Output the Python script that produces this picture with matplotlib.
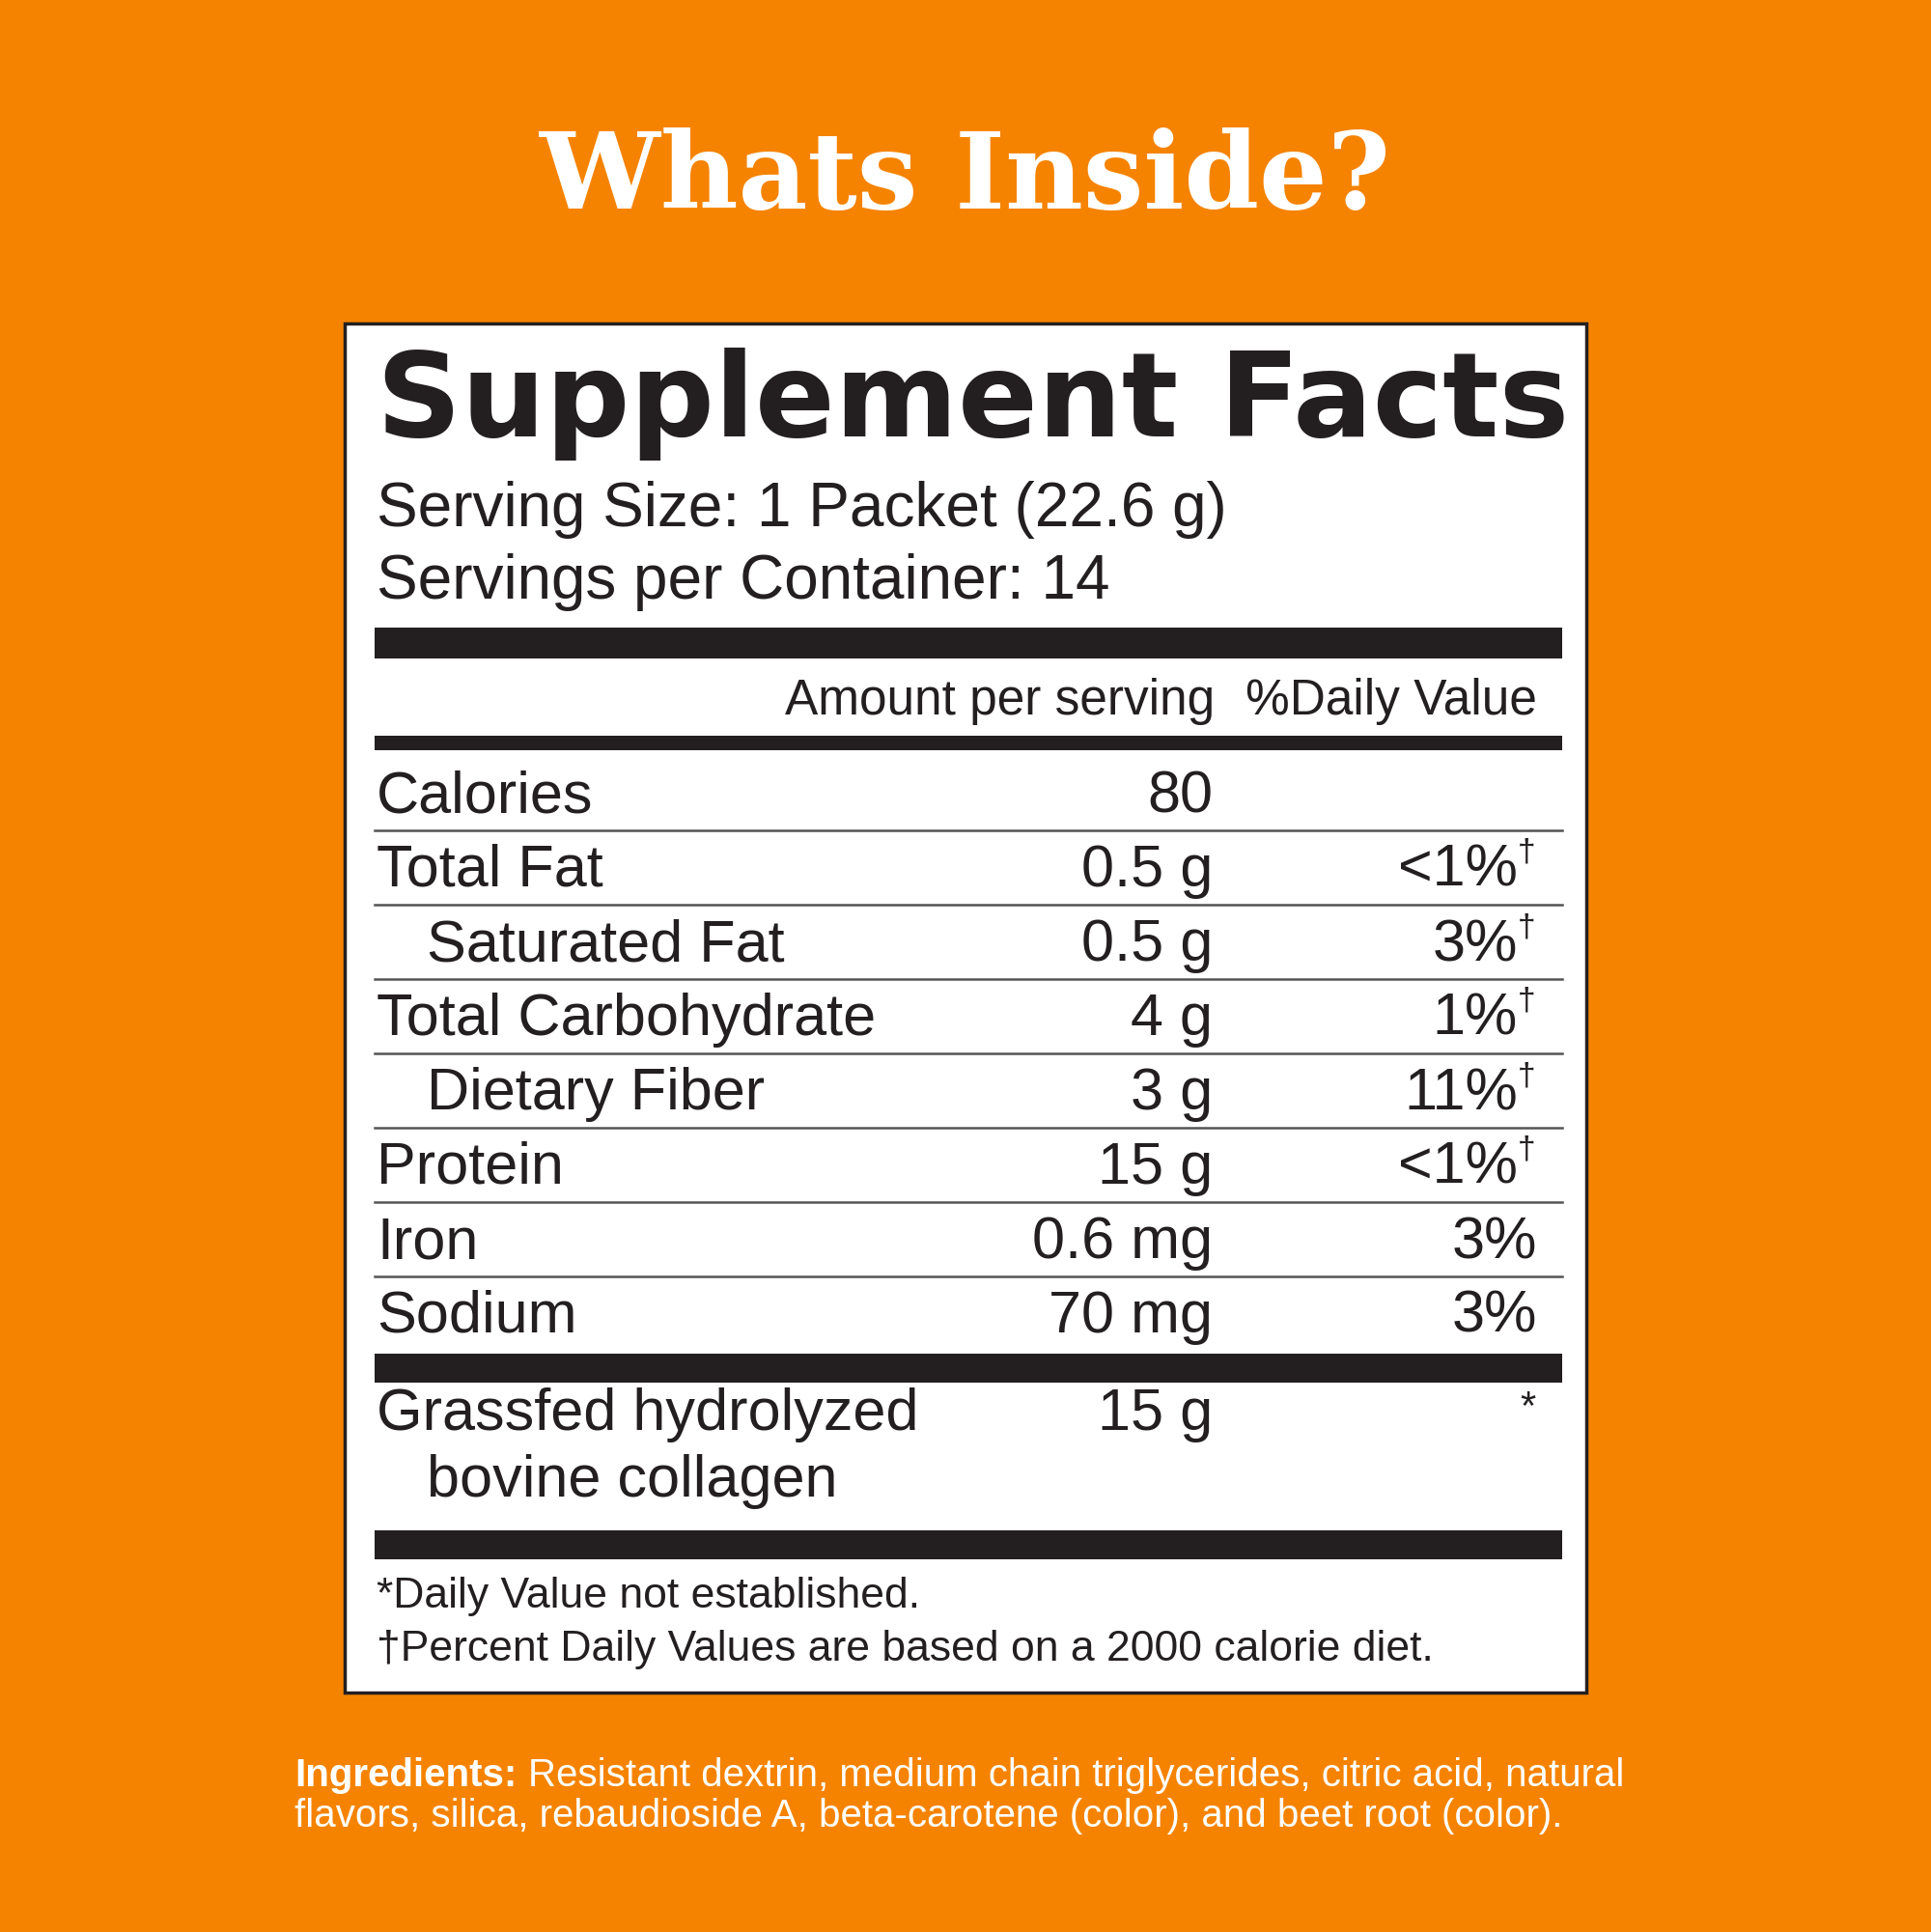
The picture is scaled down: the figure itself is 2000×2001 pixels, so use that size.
import matplotlib
matplotlib.use("Agg")
import matplotlib.pyplot as plt
from matplotlib.patches import Rectangle

# label content
title = "Whats Inside?"
heading = "Supplement Facts"
serving_lines = ["Serving Size: 1 Packet (22.6 g)", "Servings per Container: 14"]
names = ["Calories", "Total Fat", "Saturated Fat", "Total Carbohydrate",
         "Dietary Fiber", "Protein", "Iron", "Sodium"]
amounts = ["80", "0.5 g", "0.5 g", "4 g", "3 g", "15 g", "0.6 mg", "70 mg"]
dvs = ["", "<1%", "3%", "1%", "11%", "<1%", "3%", "3%"]
dagger = [False, True, True, True, True, True, False, False]
indent = [False, False, True, False, True, False, False, False]
footnotes = ["*Daily Value not established.",
             "\u2020Percent Daily Values are based on a 2000 calorie diet."]
ingr_head = "Ingredients:"
ingr_lines = ["Resistant dextrin, medium chain triglycerides, citric acid, natural",
              "flavors, silica, rebaudioside A, beta-carotene (color), and beet root (color)."]

orange = "#F58300"
ink = "#231f20"
W, H = 2000, 2001

fig = plt.figure(figsize=(W / 100, H / 100), dpi=100, facecolor=orange)
ax = fig.add_axes([0, 0, 1, 1])
ax.set_xlim(0, W)
ax.set_ylim(H, 0)
ax.axis("off")

sans = "Liberation Sans"

ax.text(1000, 216, title, color="white", fontsize=80, fontweight="bold",
        family="DejaVu Serif", ha="center", va="baseline")

ax.add_patch(Rectangle((357, 335), 1286, 1418, facecolor="white", edgecolor=ink, lw=2.5))

ax.text(390, 452, heading, color=ink, fontsize=88, fontweight="bold",
        family="DejaVu Sans", va="baseline")
for i, s in enumerate(serving_lines):
    ax.text(390, 545 + i * 75, s, color=ink, fontsize=46, family=sans, va="baseline")

def bar(y0, y1):
    ax.add_patch(Rectangle((388, y0), 1230, y1 - y0, facecolor=ink, lw=0))

bar(650, 682)
ax.text(1258, 740, "Amount per serving", color=ink, fontsize=37, family=sans,
        ha="right", va="baseline")
ax.text(1592, 740, "%Daily Value", color=ink, fontsize=37, family=sans,
        ha="right", va="baseline")
bar(762, 777)

y0, step = 841, 77
for i, name in enumerate(names):
    yb = y0 + i * step
    ax.text(442 if indent[i] else 390, yb, name, color=ink, fontsize=44,
            family=sans, va="baseline")
    ax.text(1256, yb, amounts[i], color=ink, fontsize=44, family=sans,
            ha="right", va="baseline")
    if dagger[i]:
        ax.text(1572, yb, dvs[i], color=ink, fontsize=44, family=sans,
                ha="right", va="baseline")
        ax.text(1581, yb - 26, "\u2020", color=ink, fontsize=24, family=sans,
                ha="center", va="baseline")
    else:
        ax.text(1592, yb, dvs[i], color=ink, fontsize=44, family=sans,
                ha="right", va="baseline")
    if i < len(names) - 1:
        ax.plot([388, 1618], [yb + 19, yb + 19], color="#555555", lw=1.8)

bar(1402, 1432)
ax.text(390, 1481, "Grassfed hydrolyzed", color=ink, fontsize=44, family=sans, va="baseline")
ax.text(442, 1550, "bovine collagen", color=ink, fontsize=44, family=sans, va="baseline")
ax.text(1256, 1481, "15 g", color=ink, fontsize=44, family=sans, ha="right", va="baseline")
ax.text(1582, 1470, "*", color=ink, fontsize=30, family=sans, ha="center", va="baseline")
bar(1585, 1615)

for i, s in enumerate(footnotes):
    ax.text(390, 1665 + i * 55, s, color=ink, fontsize=32, family=sans, va="baseline")

t = ax.text(305, 1850, ingr_head, color="white", fontsize=29, fontweight="bold",
            family=sans, va="baseline")
fig.canvas.draw()
bb = t.get_window_extent().transformed(ax.transData.inverted())
ax.text(bb.x1 + 12, 1850, ingr_lines[0], color="white", fontsize=29, family=sans, va="baseline")
ax.text(305, 1892, ingr_lines[1], color="white", fontsize=29, family=sans, va="baseline")

fig.savefig("out.png", dpi=100, facecolor=orange)
